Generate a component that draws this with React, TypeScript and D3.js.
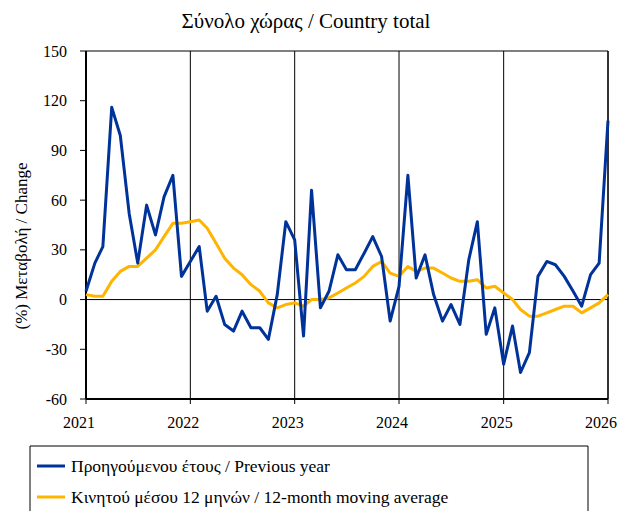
import React from "react";
import * as d3 from "d3";

const years = ["2021", "2022", "2023", "2024", "2025", "2026"];
const yTicks = [-60, -30, 0, 30, 60, 90, 120, 150];

const previousYear = [
  5, 22, 32, 116, 99, 52, 22, 57, 39, 62, 75, 14,
  23, 32, -7, 2, -15, -19, -7, -17, -17, -24, 3, 47,
  36, -22, 66, -5, 5, 27, 18, 18, 28, 38, 26, -13,
  8, 75, 13, 27, 3, -13, -3, -15, 24, 47, -21, -5,
  -39, -16, -44, -32, 14, 23, 21, 14, 5, -4, 15, 22,
  108,
];

const movingAvg = [
  3, 2, 2, 11, 17, 20, 20, 25, 30, 38, 46, 46,
  47, 48, 43, 34, 25, 19, 15, 9, 5, -2, -5, -3,
  -2, -4, 0, 0, 1, 4, 7, 10, 14, 20, 23, 16,
  14, 20, 17, 19, 19, 16, 13, 11, 11, 12, 7, 8,
  4, 0, -6, -10, -10, -8, -6, -4, -4, -8, -5, -2,
  3,
];

const seriesNames = [
  "Προηγούμενου έτους / Previous year",
  "Κινητού μέσου 12 μηνών / 12-month moving average",
];
const seriesColors = ["#003399", "#FFB400"];

const W = 620;
const H = 511;
const M = { left: 86, right: 608, top: 51, bottom: 399 };
const tStyle = { fontFamily: "Liberation Serif" };

export default function App() {
  const months = d3.timeMonth.range(new Date(2021, 0, 1), new Date(2026, 0, 2));
  const x = d3.scaleTime().domain([new Date(2021, 0, 1), new Date(2026, 0, 1)]).range([M.left, M.right]);
  const y = d3.scaleLinear().domain([-60, 150]).range([M.bottom, M.top]);
  const line = d3
    .line<number>()
    .x((_, i) => x(months[i]))
    .y((d) => y(d));
  const yearDates = years.map((yr) => new Date(+yr, 0, 1));

  return (
    <svg width={W} height={H} style={{ position: "absolute", left: 0, top: 0, background: "#fff" }}>
      <rect x={0} y={0} width={W} height={H} fill="#fff" />
      <text x={306} y={28} textAnchor="middle" fontSize={21} fill="#000" style={tStyle}>
        Σύνολο χώρας / Country total
      </text>

      {yearDates.map((d, i) => (
        <line key={"g" + i} x1={x(d)} x2={x(d)} y1={M.top} y2={M.bottom} stroke="#000" strokeWidth={1} />
      ))}
      <line x1={M.left} x2={M.right} y1={y(0)} y2={y(0)} stroke="#000" strokeWidth={1} />
      <line x1={M.left} x2={M.right} y1={M.top} y2={M.top} stroke="#000" strokeWidth={1.2} />
      <line x1={M.right} x2={M.right} y1={M.top} y2={M.bottom} stroke="#000" strokeWidth={1.2} />
      <line x1={M.left} x2={M.left} y1={M.top} y2={M.bottom} stroke="#000" strokeWidth={2} />
      <line x1={M.left} x2={M.right} y1={M.bottom} y2={M.bottom} stroke="#000" strokeWidth={2} />

      {yTicks.map((t) => (
        <g key={"y" + t}>
          <line x1={M.left - 6} x2={M.left} y1={y(t)} y2={y(t)} stroke="#000" strokeWidth={1} />
          <text x={67} y={y(t)} dy="0.35em" textAnchor="end" fontSize={16} fill="#000" style={tStyle}>
            {t}
          </text>
        </g>
      ))}
      {yearDates.map((d, i) => (
        <g key={"x" + i}>
          <line x1={x(d)} x2={x(d)} y1={M.bottom} y2={M.bottom + 5} stroke="#000" strokeWidth={1} />
          <text x={x(d) - 7} y={428} textAnchor="middle" fontSize={16} fill="#000" style={tStyle}>
            {years[i]}
          </text>
        </g>
      ))}

      <text transform={`translate(27,246) rotate(-90)`} textAnchor="middle" fontSize={17} fill="#000" style={tStyle}>
        (%) Μεταβολή / Change
      </text>

      <path d={line(movingAvg) || ""} fill="none" stroke={seriesColors[1]} strokeWidth={3} strokeLinejoin="round" />
      <path d={line(previousYear) || ""} fill="none" stroke={seriesColors[0]} strokeWidth={3} strokeLinejoin="round" />

      <path d={`M30,${H + 2} V446 H588 V${H + 2}`} fill="none" stroke="#000" strokeWidth={1} />
      {seriesNames.map((n, i) => (
        <g key={"l" + i}>
          <line x1={37} x2={65} y1={466 + i * 31} y2={466 + i * 31} stroke={seriesColors[i]} strokeWidth={3} />
          <text x={71} y={466 + i * 31} dy="0.33em" fontSize={17.5} fill="#000" style={tStyle}>
            {n}
          </text>
        </g>
      ))}
    </svg>
  );
}
